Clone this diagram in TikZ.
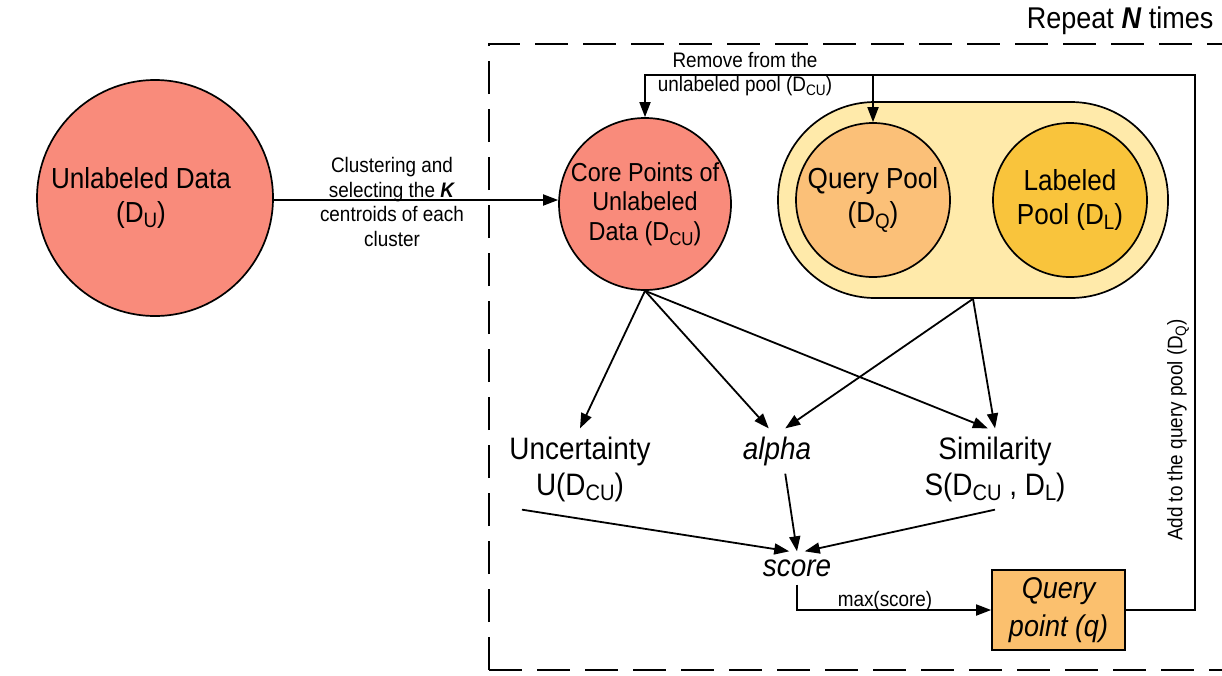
\documentclass[tikz,border=0pt]{standalone}
\usepackage{fontspec}
\setmainfont{Liberation Sans}[FakeStretch=0.9]
\usetikzlibrary{arrows.meta}
\definecolor{salmon}{HTML}{F98B7B}
\definecolor{poolbg}{HTML}{FFEAAA}
\definecolor{qpoolc}{HTML}{FBC078}
\definecolor{lpoolc}{HTML}{F9C43C}
\definecolor{qpointc}{HTML}{FBC06E}
\newcommand\sbs[1]{\raisebox{-0.35ex}{\scalebox{0.72}{#1}}}
\tikzset{
  big/.style={font=\fontsize{29}{34}\selectfont, align=center},
  mid/.style={font=\fontsize{26}{29.5}\selectfont, align=center},
  small/.style={font=\fontsize{21}{24.5}\selectfont, align=center},
  txt/.style={font=\fontsize{31}{36}\selectfont, align=center, inner sep=8pt},
  circ/.style={circle, draw, line width=1.7pt, inner sep=0pt},
  arr/.style={line width=1.8pt, -{Triangle[length=15pt,width=11pt]}},
  dashbox/.style={line width=1.7pt, dash pattern=on 33pt off 15pt},
}
\begin{document}
\begin{tikzpicture}[x=1pt,y=-1pt]
\useasboundingbox (0,0) rectangle (1222,675);
\clip (0,0) rectangle (1222,675);
\fill[white] (0,0) rectangle (1222,675);

% repeat box
\draw[dashbox] (489,670) -- (489,44) -- (1260,44);
\draw[dashbox] (489,670) -- (1260,670);
\node[big, font=\fontsize{30}{34}\selectfont, anchor=east] (rep) at (1217,21) {Repeat \textbf{\textit{N}} times};

% main nodes
\node[circ, fill=salmon, minimum size=236pt] (ud) at (155,198) {};
\node[big] (udlab) at (141,198) {Unlabeled Data\\(D\sbs{U})};
\node[circ, fill=salmon, minimum size=172pt, mid] (core) at (645,204) {Core Points of\\Unlabeled\\Data (D\sbs{CU})};
\node[draw, line width=1.7pt, fill=poolbg, rounded corners=97pt, minimum width=390pt, minimum height=196pt] (pool) at (973,200) {};
\node[circ, fill=qpoolc, minimum size=154pt, big] (qpool) at (873,200) {Query Pool\\(D\sbs{Q})};
\node[circ, fill=lpoolc, minimum size=154pt, big] (lpool) at (1070,200) {Labeled\\Pool (D\sbs{L})};

\node[txt] (unc) at (580,469) {Uncertainty\\U(D\sbs{CU})};
\node[txt] (alpha) at (777,451) {\textit{alpha}};
\node[txt] (sim) at (995,469) {Similarity\\S(D\sbs{CU} , D\sbs{L})};
\node[txt] (score) at (797,568) {\textit{score}};
\node[draw, line width=1.7pt, fill=qpointc, minimum width=133pt, minimum height=80pt, inner sep=0pt,
      font=\fontsize{30}{38}\selectfont\itshape, align=center] (qp) at (1058.5,610) {Query\\point (q)};

% clustering arrow
\draw[arr] (ud.east |- 0,200) -- (core.west |- 0,200);
\node[small] (clab) at (392,202) {Clustering and\\selecting the \textbf{\textit{K}}\\centroids of each\\cluster};

% feedback loop
\coordinate (tr) at (1195,75);
\draw[arr] (qp.east) -- (qp.east -| tr) -- (tr) -| (core.north);
\draw[arr] (qpool.north |- tr) -- (qpool.north);
\node[small] (rlab) at (745,74) {Remove from the\\unlabeled pool (D\sbs{CU})};
\node[small, rotate=90] (alab) at (1178,430) {Add to the query pool (D\sbs{Q})};

% arrows to metrics
\draw[arr] (core.south) -- (unc.north);
\draw[arr] (core.south) -- (alpha.110);
\draw[arr] (core.south) -- (sim.100);
\draw[arr] (pool.south) -- (alpha.70);
\draw[arr] (pool.south) -- (sim.north);

% arrows to score
\draw[arr] (unc.-145) -- (score.115);
\draw[arr] (alpha.-70) -- (score.north);
\draw[arr] (sim.south) -- (score.65);

% to query point
\draw[arr] (score.south) |- (qp.west);
\node[small] (mlab) at (885,601) {max(score)};
\end{tikzpicture}
\end{document}
